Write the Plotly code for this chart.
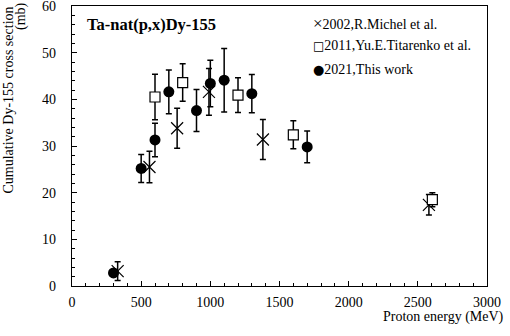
import plotly.graph_objects as go

# Data
michel_x = [330, 560, 760, 990, 1380, 2580]
michel_y = [3.2, 25.5, 33.8, 41.6, 31.4, 17.4]
michel_err = [2.0, 3.4, 4.3, 5.0, 4.3, 2.2]

titarenko_x = [600, 800, 1200, 1600, 2605]
titarenko_y = [40.5, 43.6, 40.9, 32.4, 18.5]
titarenko_err = [4.9, 4.0, 3.7, 3.0, 1.5]

work_x = [300, 500, 600, 700, 900, 1000, 1100, 1300, 1700]
work_y = [2.8, 25.2, 31.3, 41.6, 37.6, 43.4, 44.1, 41.2, 29.8]
work_err = [0.0, 3.0, 3.6, 4.7, 4.5, 5.0, 6.8, 4.1, 3.4]

legend_labels = ["2002,R.Michel et al.", "2011,Yu.E.Titarenko et al.", "2021,This work"]
legend_glyphs = ["\u00d7", "\u25a1", "\u25cf"]
legend_glyph_fonts = ["Liberation Serif", "DejaVu Sans", "DejaVu Sans"]
legend_glyph_sizes = [17, 12, 13]

FONT = "Liberation Serif"
L, R, T, B = 72, 23, 6, 50
W, H = 510, 336
PW, PH = W - L - R, H - T - B


def px(xp):
    return (xp - L) / PW


def py(yp):
    return 1 - (yp - T) / PH


fig = go.Figure()

err_style = dict(type="data", color="black", thickness=1.5, width=3)

fig.add_trace(go.Scatter(
    x=michel_x, y=michel_y, mode="markers", name=legend_labels[0],
    error_y=dict(array=michel_err, **err_style),
    marker=dict(symbol="x-thin-open", size=12, color="black",
                line=dict(color="black", width=1.2)),
    showlegend=False))

fig.add_trace(go.Scatter(
    x=titarenko_x, y=titarenko_y, mode="markers", name=legend_labels[1],
    error_y=dict(array=titarenko_err, **err_style),
    marker=dict(symbol="square", size=10, color="white",
                line=dict(color="black", width=1.2)),
    showlegend=False))

fig.add_trace(go.Scatter(
    x=work_x, y=work_y, mode="markers", name=legend_labels[2],
    error_y=dict(array=work_err, **err_style),
    marker=dict(symbol="circle", size=11, color="black",
                line=dict(color="black", width=0)),
    showlegend=False))

# Legend as text
for i, (g, gf, gs, lab) in enumerate(zip(legend_glyphs, legend_glyph_fonts,
                                         legend_glyph_sizes, legend_labels)):
    fig.add_annotation(
        xref="paper", yref="paper", x=px(311), y=py(23 + 23 * i),
        text=f"<span style='font-size:{gs}px;font-family:{gf}'>{g}</span>{lab}",
        showarrow=False, xanchor="left", yanchor="middle",
        font=dict(family=FONT, size=14, color="black"))

# Chart label
fig.add_annotation(
    xref="paper", yref="paper", x=px(85), y=py(25),
    text="<b>Ta-nat(p,x)Dy-155</b>", showarrow=False, xanchor="left", yanchor="middle",
    font=dict(family=FONT, size=16.5, color="black"))

# Axis titles
fig.add_annotation(
    xref="paper", yref="paper", x=px(506), y=py(317),
    text="Proton energy (MeV)", showarrow=False, xanchor="right", yanchor="middle",
    font=dict(family=FONT, size=14, color="black"))
fig.add_annotation(
    xref="paper", yref="paper", x=px(8), y=py(5),
    text="Cumulative Dy-155 cross section", showarrow=False, textangle=-90,
    xanchor="center", yanchor="top",
    font=dict(family=FONT, size=14, color="black"))
fig.add_annotation(
    xref="paper", yref="paper", x=px(21), y=py(16),
    text="(mb)", showarrow=False, textangle=-90,
    xanchor="center", yanchor="middle",
    font=dict(family=FONT, size=14, color="black"))

fig.update_xaxes(
    range=[0, 3000], dtick=500, tick0=0, showgrid=False, zeroline=False,
    showline=True, linecolor="black", linewidth=1.2, mirror=True,
    ticks="inside", ticklen=5, tickcolor="black", tickwidth=1,
    ticklabelstandoff=3, ticklabeloverflow="allow", automargin=False,
    minor=dict(dtick=100, ticks="inside", ticklen=3, tickcolor="black", showgrid=False),
    tickfont=dict(family=FONT, size=14, color="black"))
fig.update_yaxes(
    range=[0, 60], dtick=10, tick0=0, showgrid=False, zeroline=False,
    showline=True, linecolor="black", linewidth=1.2, mirror=True,
    ticks="inside", ticklen=5, tickcolor="black", tickwidth=1,
    ticklabelstandoff=12, ticklabeloverflow="allow", automargin=False,
    minor=dict(dtick=2, ticks="inside", ticklen=3, tickcolor="black", showgrid=False),
    tickfont=dict(family=FONT, size=14, color="black"))

fig.update_layout(
    width=W, height=H,
    margin=dict(l=L, r=R, t=T, b=B, autoexpand=False),
    plot_bgcolor="white", paper_bgcolor="white",
    showlegend=False)

fig.write_html("out.html", config={"displayModeBar": False},
               post_script="document.body.style.margin='0';document.body.style.overflow='hidden';")
